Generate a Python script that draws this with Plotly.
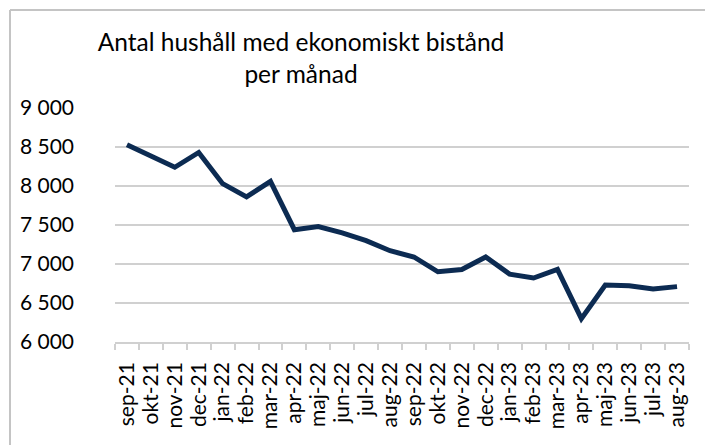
import plotly.graph_objects as go

months = ["sep-21", "okt-21", "nov-21", "dec-21", "jan-22", "feb-22", "mar-22",
          "apr-22", "maj-22", "jun-22", "jul-22", "aug-22", "sep-22", "okt-22",
          "nov-22", "dec-22", "jan-23", "feb-23", "mar-23", "apr-23", "maj-23",
          "jun-23", "jul-23", "aug-23"]
hushall = [8530, 8380, 8240, 8430, 8030, 7860, 8060, 7440, 7480, 7400, 7300,
           7170, 7090, 6900, 6930, 7090, 6870, 6820, 6930, 6300, 6730, 6720,
           6680, 6710]
y_ticks = [6000, 6500, 7000, 7500, 8000, 8500, 9000]

title_text = "Antal hushåll med ekonomiskt bistånd<br>per månad"
FONT = "Lato"

# the page body adds an 8px offset; compensate in figure coordinates
OFF = 8
W, H = 713, 445
ml, mr, mt, mb = 115 - OFF, 24 + OFF, 108 - OFF, 103 + OFF
pw, ph = W - ml - mr, H - mt - mb

def px_x(p):
    return (p - OFF - ml) / pw

def px_y(p):
    return (H - mb - (p - OFF)) / ph

fig = go.Figure()
fig.add_trace(go.Scatter(
    x=months, y=hushall, mode="lines",
    line=dict(color="#0c2b52", width=5, shape="linear"),
    hoverinfo="x+y", showlegend=False,
))

border = dict(color="#c4c4c4", width=2)
fig.update_layout(
    width=W, height=H,
    margin=dict(l=ml, r=mr, t=mt, b=mb, pad=0, autoexpand=False),
    paper_bgcolor="white", plot_bgcolor="white",
    separators=", ",
    font=dict(family=FONT, color="black"),
    title=dict(text=title_text, x=(301 - OFF) / W, xanchor="center",
               y=1 - (51 - OFF) / H, yanchor="top",
               font=dict(family=FONT, size=24.5, color="black")),
    xaxis=dict(
        type="category", showgrid=False, showline=True, automargin=False,
        linecolor="#d0d0d0", linewidth=1.5,
        ticks="outside", tickson="boundaries", ticklen=6,
        tickcolor="#d0d0d0", tickwidth=1.5,
        ticklabelstandoff=10,
        tickmode="array", tickvals=months, ticktext=months,
        tickangle=-90, tickfont=dict(family=FONT, size=21, color="black"),
        range=[-0.5, len(months) - 0.5],
    ),
    yaxis=dict(
        range=[6000, 9000], tickvals=y_ticks, tickformat=",d", automargin=False,
        showgrid=True, gridcolor="#d0d0d0", gridwidth=1.6,
        zeroline=False, showline=False, ticks="",
        ticklabelstandoff=40,
        tickfont=dict(family=FONT, size=21, color="black"),
    ),
    shapes=[
        dict(type="line", xref="paper", yref="paper",
             x0=px_x(10), x1=px_x(10), y0=px_y(H + 20), y1=px_y(10),
             line=border, layer="above"),
        dict(type="line", xref="paper", yref="paper",
             x0=px_x(10), x1=px_x(W + 20), y0=px_y(10), y1=px_y(10),
             line=border, layer="above"),
    ],
)

fig.write_html("out.html")
